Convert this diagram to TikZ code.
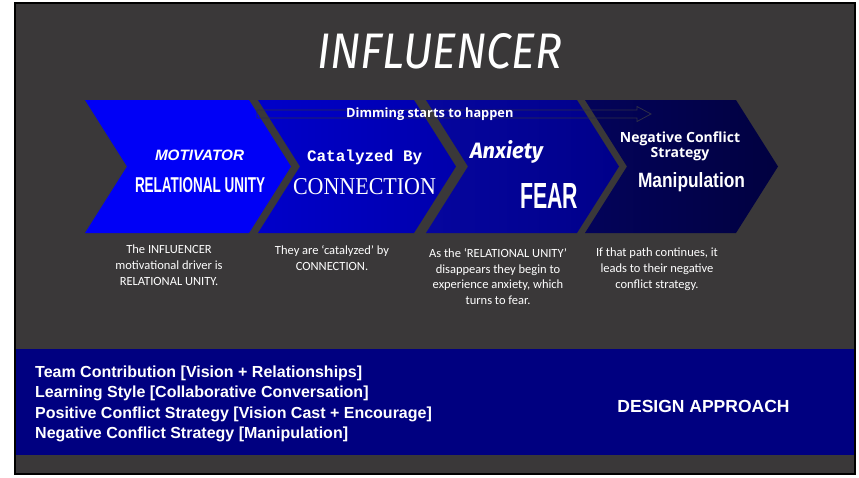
\documentclass[tikz,border=0pt]{standalone}
\usepackage{fontspec}
\usepackage{graphicx}
\setmainfont{Carlito}
\newfontfamily\opensans{Open Sans}
\newfontfamily\libsans{Liberation Sans}
\newfontfamily\libserif{Liberation Serif}
\newfontfamily\libmono{Liberation Mono}
\newfontfamily\handfont{Fira Sans}
\definecolor{bgdark}{HTML}{3A3839}
\definecolor{bandblue}{HTML}{000080}
\definecolor{cone}{HTML}{0000F6}
\definecolor{ctwoa}{HTML}{0000CA}
\definecolor{ctwob}{HTML}{0000AC}
\definecolor{cthreea}{HTML}{06069E}
\definecolor{cthreeb}{HTML}{00008A}
\definecolor{cfoura}{HTML}{03035A}
\definecolor{cfourb}{HTML}{010140}
\definecolor{arrowline}{HTML}{2E2E48}
\tikzset{
  fitlabel/.style={inner sep=0pt, outer sep=0pt, text=white, anchor=base west},
  desc/.style={inner sep=0pt, text=white, align=center, anchor=north,
    font=\fontsize{12.5}{15.8}\selectfont},
  bandtext/.style={inner sep=0pt, text=white, font=\libsans\bfseries\fontsize{16}{20.4}\selectfont},
}
\begin{document}
\begin{tikzpicture}[x=1pt,y=-1pt]
\useasboundingbox (0,0) rectangle (859,477);
\fill[white] (0,0) rectangle (859,477);
\draw[black, line width=2pt, fill=bgdark] (15,3) rectangle (855,474);
\fill[bandblue] (16,349) rectangle (854,455);

% chevrons
\fill[cone] (85,100) -- (249,100) -- (291,166.5) -- (249,233) -- (85,233) -- (127,166.5) -- cycle;
\shade[left color=ctwoa, right color=ctwob] (258,100) -- (414,100) -- (456,166.5) -- (414,233) -- (258,233) -- (300,166.5) -- cycle;
\shade[left color=cthreea, right color=cthreeb] (426,100) -- (577,100) -- (619,166.5) -- (577,233) -- (426,233) -- (468,166.5) -- cycle;
\shade[left color=cfoura, right color=cfourb] (585,100) -- (736,100) -- (778,166.5) -- (736,233) -- (585,233) -- (627,166.5) -- cycle;
\coordinate (ch1) at (188,166.5);
\coordinate (ch2) at (357,166.5);
\coordinate (ch3) at (522,166.5);
\coordinate (ch4) at (681,166.5);

% dimming arrow (outline)
\draw[arrowline, line width=0.8pt, line join=miter]
  (257,110) -- (637,110) -- (637,106.5) -- (651,114) -- (637,121.5) -- (637,118) -- (257,118) -- cycle;
\node[inner sep=0pt, text=white, anchor=base west, font=\opensans\bfseries\fontsize{12.8}{14}\selectfont] (dim) at (346,117.5) {Dimming starts to happen};

% title
\node[fitlabel] (title) at (317,68) {\resizebox{245pt}{35pt}{\handfont\itshape INFLUENCER}};

% chevron 1
\node[fitlabel] (motiv) at (155,160) {\resizebox{89pt}{10.5pt}{\libsans\bfseries\itshape MOTIVATOR}};
\node[fitlabel] (relu) at (135,192) {\resizebox{130pt}{15pt}{\libsans\bfseries RELATIONAL UNITY}};
% chevron 2
\node[fitlabel] (cat) at (307,161) {\libmono\bfseries\fontsize{16}{18}\selectfont Catalyzed By};
\node[fitlabel] (conn) at (293,194) {\resizebox{143pt}{16pt}{\libserif CONNECTION}};
% chevron 3
\node[fitlabel] (anx) at (470,158) {\resizebox{73pt}{18pt}{\handfont\bfseries\itshape Anxiety}};
\node[fitlabel] (fear) at (520,208) {\resizebox{58pt}{25pt}{\libsans\bfseries FEAR}};
% chevron 4
\node[inner sep=0pt, text=white, anchor=base, font=\opensans\bfseries\fontsize{14}{15}\selectfont] (neg1) at (680,142) {Negative Conflict};
\node[inner sep=0pt, text=white, anchor=base, font=\opensans\bfseries\fontsize{14}{15}\selectfont] (neg2) at (680,157) {Strategy};
\node[fitlabel] (manip) at (638,187) {\resizebox{107pt}{15pt}{\libsans\bfseries Manipulation}};

% descriptions
\node[desc] (d1) at (169,245) {The INFLUENCER\\motivational driver is\\RELATIONAL UNITY.};
\node[desc] (d2) at (332,245) {They are ‘catalyzed’ by\\CONNECTION.};
\node[desc] (d3) at (498,248) {As the ‘RELATIONAL UNITY’\\disappears they begin to\\experience anxiety, which\\turns to fear.};
\node[desc] (d4) at (657,248) {If that path continues, it\\leads to their negative\\conflict strategy.};

% band
\node[bandtext, anchor=north west, align=left] (list) at (35,365.5) {Team Contribution [Vision + Relationships]\\Learning Style [Collaborative Conversation]\\Positive Conflict Strategy [Vision Cast + Encourage]\\Negative Conflict Strategy [Manipulation]};
\node[inner sep=0pt, text=white, anchor=base, font=\libsans\bfseries\fontsize{17.5}{20}\selectfont] (design) at (703.5,412) {DESIGN APPROACH};
\end{tikzpicture}
\end{document}
